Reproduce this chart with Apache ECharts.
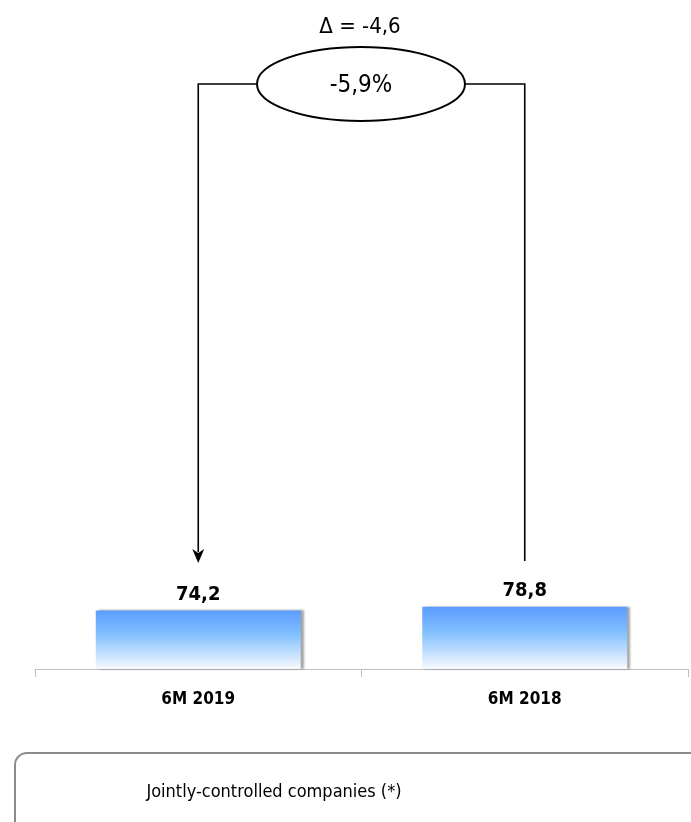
<!DOCTYPE html>
<html><head><meta charset="utf-8">
<script src="https://cdn.jsdelivr.net/npm/echarts@6/dist/echarts.min.js"></script>
<style>html,body{margin:0;padding:0;background:#fff}#c{width:691px;height:822px}</style>
</head><body><div id="c"></div>
<script>
const categories = ['6M 2019', '6M 2018'];
const values = [74.2, 78.8];
const valueLabels = ['74,2', '78,8'];
const deltaText = '\u0394 = -4,6';
const pctText = '-5,9%';
const footerText = 'Jointly-controlled companies (*)';

const FONT = '"DejaVu Sans Condensed", "DejaVu Sans", sans-serif';
const chart = echarts.init(document.getElementById('c'), null, {renderer: 'canvas'});
chart.setOption({
  animation: false,
  grid: {left: 35, right: 3, top: 116, bottom: 153, containLabel: false},
  xAxis: {
    type: 'category', data: categories,
    axisLine: {lineStyle: {color: '#bfbfbf', width: 1}},
    axisTick: {show: true, length: 8, lineStyle: {color: '#bfbfbf'}},
    axisLabel: {margin: 22, color: '#000', fontWeight: 'bold', fontSize: 17, fontFamily: FONT}
  },
  yAxis: {type: 'value', min: 0, max: 700, show: false, splitLine: {show: false}},
  series: [{
    type: 'bar', data: values, barWidth: 205,
    itemStyle: {
      color: new echarts.graphic.LinearGradient(0, 0, 0, 1, [
        {offset: 0, color: '#5c9cff'},
        {offset: 0.4, color: '#80bfff'},
        {offset: 1, color: '#f8fafd'}
      ]),
      shadowColor: 'rgba(0,0,0,0.35)', shadowOffsetX: 3, shadowBlur: 2
    },
    label: {
      show: true, position: 'top', distance: 6,
      formatter: p => valueLabels[p.dataIndex],
      color: '#000', fontWeight: 'bold', fontSize: 20, fontFamily: FONT
    }
  }]
});

const x1 = chart.convertToPixel({xAxisIndex: 0}, categories[0]);
const x2 = chart.convertToPixel({xAxisIndex: 0}, categories[1]);
const topY = 84, cx = 361, rx = 104, ry = 37;
const ls = {stroke: '#000', lineWidth: 1.6, fill: null};
chart.setOption({
  graphic: [
    {type: 'polyline', shape: {points: [[cx - rx, topY], [x1, topY], [x1, 552]]}, style: ls},
    {type: 'polygon', shape: {points: [[x1 - 6, 549], [x1, 553], [x1 + 6, 549], [x1, 563]]}, style: {fill: '#000'}},
    {type: 'polyline', shape: {points: [[cx + rx, topY], [x2, topY], [x2, 561]]}, style: ls},
    {type: 'ellipse', shape: {cx: cx, cy: topY, rx: rx, ry: ry}, style: {stroke: '#000', lineWidth: 2, fill: '#fff'}},
    {type: 'text', x: cx, y: topY + 2, style: {text: pctText, fontSize: 24, fontFamily: FONT, fill: '#000', align: 'center', verticalAlign: 'middle'}},
    {type: 'text', x: 360, y: 27, style: {text: deltaText, fontSize: 22, fontFamily: FONT, fill: '#000', align: 'center', verticalAlign: 'middle'}},
    {type: 'rect', shape: {x: 15, y: 753, width: 760, height: 90, r: 12}, style: {stroke: '#8c8c8c', lineWidth: 2, fill: null}},
    {type: 'text', x: 274, y: 792, style: {text: footerText, fontSize: 18, fontFamily: FONT, fill: '#000', align: 'center', verticalAlign: 'middle'}}
  ]
});
</script></body></html>
